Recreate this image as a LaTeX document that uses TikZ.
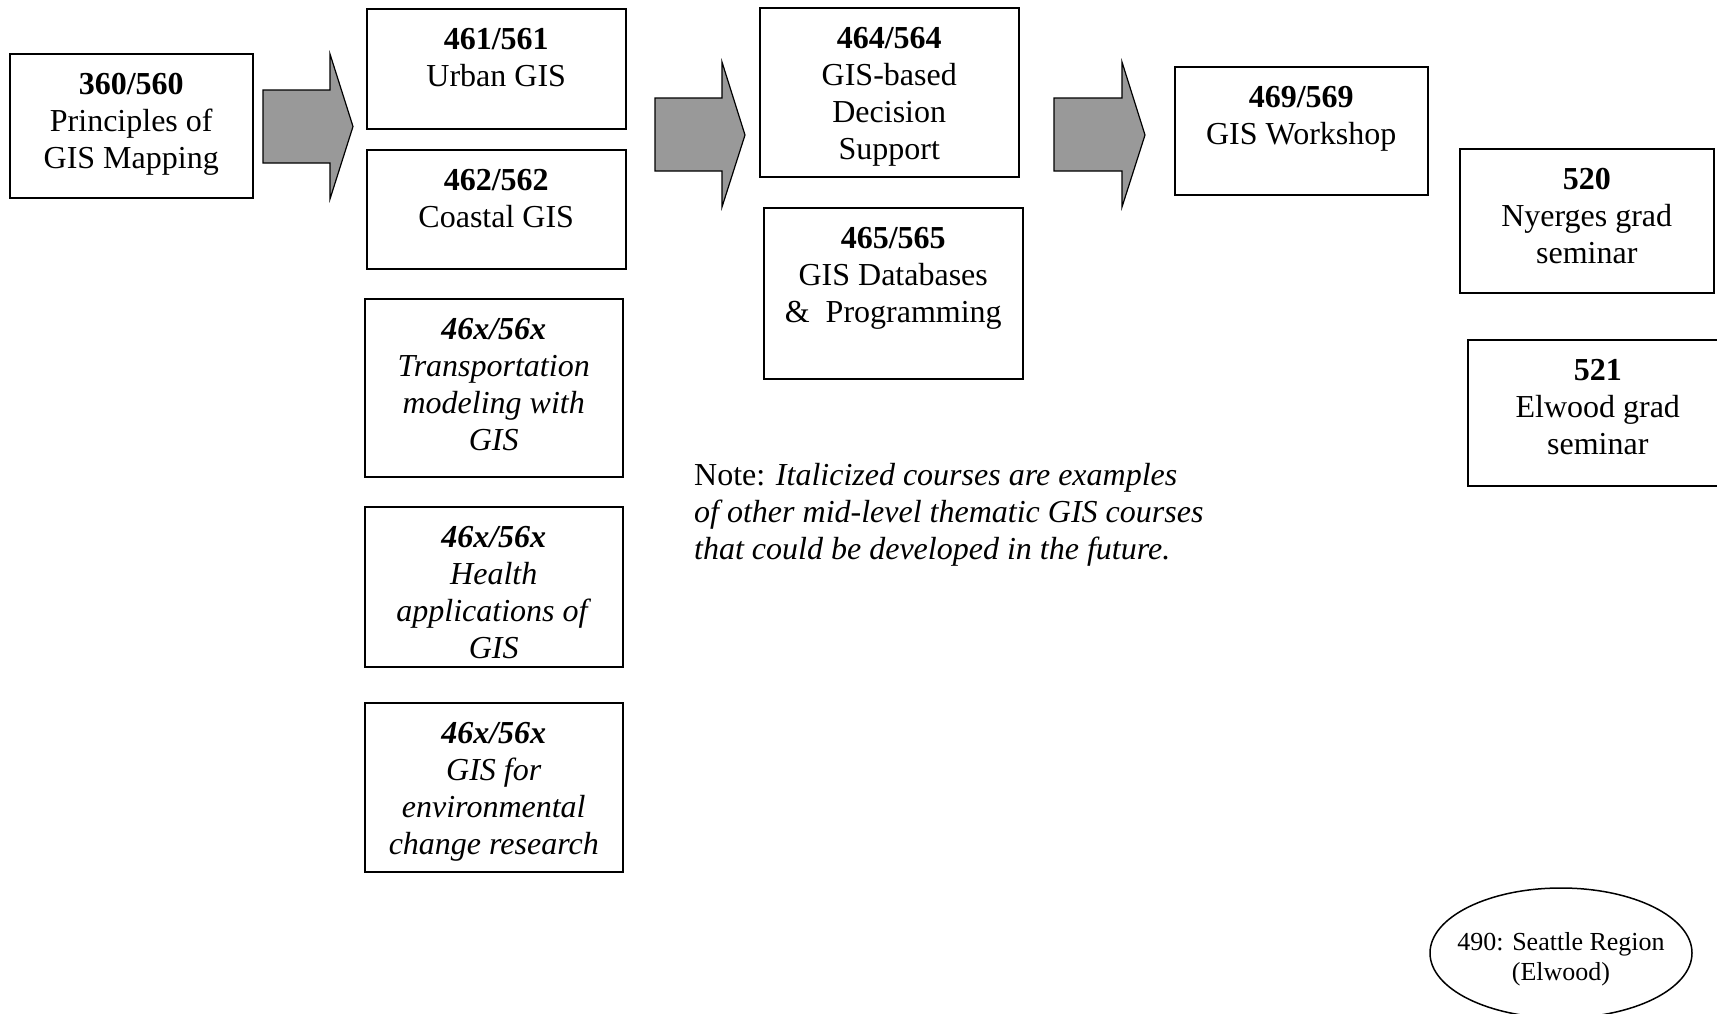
\documentclass[tikz,border=0pt]{standalone}
\usepackage{fontspec}
\setmainfont{Liberation Serif}
\usetikzlibrary{shapes.geometric}
\definecolor{arrowgray}{RGB}{153,153,153}
\tikzset{
  box/.style={draw, line width=1.5pt, inner sep=0pt, anchor=north west},
  txt/.style={anchor=north, align=center, inner sep=0pt, yshift=-20pt, font=\fontsize{32}{37}\selectfont},
  bigarrow/.style={draw, line width=1.2pt, fill=arrowgray, line join=miter},
}
\begin{document}
\begin{tikzpicture}[x=1pt, y=-1pt]
\useasboundingbox (0,0) rectangle (1717,1013);
\clip (0,0) rectangle (1717,1013);
\fill[white] (0,0) rectangle (1717,1013);

% boxes
\node[box, minimum width=243pt, minimum height=144pt] (a) at (9,53) {};
\node[txt] (ta) at (a.north) {\textbf{360/560}\\Principles of\\GIS Mapping};

\node[box, minimum width=259pt, minimum height=120pt] (b1) at (366,8) {};
\node[txt] (tb1) at (b1.north) {\textbf{461/561}\\Urban GIS};

\node[box, minimum width=259pt, minimum height=119pt] (b2) at (366,149) {};
\node[txt] (tb2) at (b2.north) {\textbf{462/562}\\Coastal GIS};

\node[box, minimum width=258pt, minimum height=178pt] (bt) at (364,298) {};
\node[txt] (tbt) at (bt.north) {\textbf{\textit{46x/56x}}\\\textit{Transportation}\\\textit{modeling with}\\\textit{GIS}};

\node[box, minimum width=258pt, minimum height=160pt] (bh) at (364,506) {};
\node[txt] (tbh) at (bh.north) {\textbf{\textit{46x/56x}}\\\textit{Health}\\\textit{applications of}\\\textit{GIS}};

\node[box, minimum width=258pt, minimum height=169pt] (be) at (364,702) {};
\node[txt] (tbe) at (be.north) {\textbf{\textit{46x/56x}}\\\textit{GIS for}\\\textit{environmental}\\\textit{change research}};

\node[box, minimum width=259pt, minimum height=169pt] (c1) at (759,7) {};
\node[txt] (tc1) at (c1.north) {\textbf{464/564}\\GIS-based\\Decision\\Support};

\node[box, minimum width=259pt, minimum height=171pt] (c2) at (763,207) {};
\node[txt] (tc2) at (c2.north) {\textbf{465/565}\\GIS Databases\\\&\ \ Programming};

\node[box, minimum width=253pt, minimum height=128pt] (d) at (1174,66) {};
\node[txt] (td) at (d.north) {\textbf{469/569}\\GIS Workshop};

\node[box, minimum width=254pt, minimum height=144pt] (g1) at (1459,148) {};
\node[txt] (tg1) at (g1.north) {\textbf{520}\\Nyerges grad\\seminar};

\node[box, minimum width=260pt, minimum height=146pt] (g2) at (1467,339) {};
\node[txt] (tg2) at (g2.north) {\textbf{521}\\Elwood grad\\seminar};

% block arrows
\draw[bigarrow] (263,90) -- (330,90) -- (330,54) -- (353,126.5) -- (330,199) -- (330,163) -- (263,163) -- cycle;
\draw[bigarrow] (655,98) -- (722,98) -- (722,62) -- (745,135) -- (722,207) -- (722,171) -- (655,171) -- cycle;
\draw[bigarrow] (1054,98) -- (1122,98) -- (1122,62) -- (1145,135) -- (1122,207) -- (1122,171) -- (1054,171) -- cycle;

% note
\node[anchor=north west, align=left, inner sep=0pt, font=\fontsize{32}{37}\selectfont] (note) at (694,463)
  {Note: \textit{Italicized courses are examples}\\\textit{of other mid-level thematic GIS courses}\\\textit{that could be developed in the future.}};

% ellipse
\node[draw, ellipse, line width=1.5pt, minimum width=262pt, minimum height=130pt, inner sep=0pt] (e) at (1561,953) {};
\node[align=center, inner sep=0pt, font=\fontsize{26}{30.5}\selectfont] (te) at (1561,959) {490: Seattle Region\\(Elwood)};
\end{tikzpicture}
\end{document}
